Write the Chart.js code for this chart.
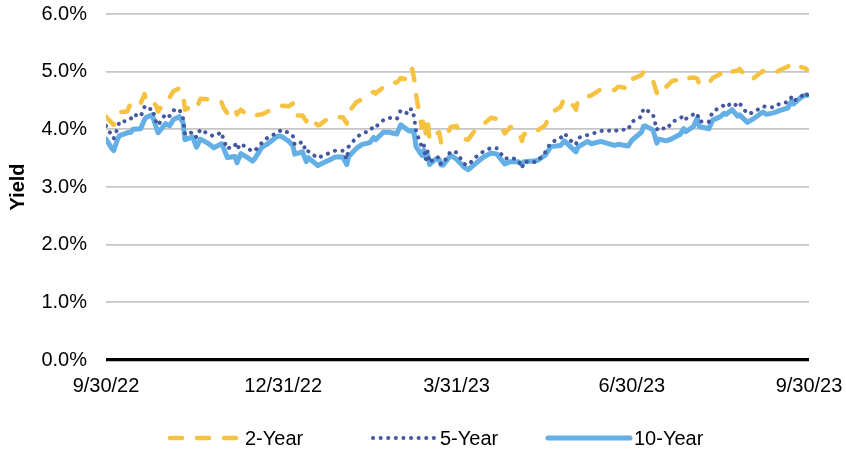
<!DOCTYPE html>
<html>
<head>
<meta charset="utf-8">
<script src="https://cdn.jsdelivr.net/npm/chart.js@4.4.0/dist/chart.umd.min.js"></script>
<style>
  html, body { margin: 0; padding: 0; background: #fff; }
  #wrap { width: 846px; height: 452px; }
</style>
</head>
<body>
<div id="wrap"><canvas id="chart" width="846" height="452"></canvas></div>
<script>
// Dates of the points (M/D/YY)
const dates = [
    '9/30/22','10/3/22','10/4/22','10/6/22','10/7/22','10/11/22','10/13/22','10/14/22','10/18/22','10/20/22','10/21/22','10/24/22','10/26/22','10/27/22','10/31/22',
    '11/2/22','11/4/22','11/7/22','11/9/22','11/10/22','11/14/22','11/16/22','11/18/22','11/22/22','11/25/22','11/29/22','11/30/22',
    '12/2/22','12/6/22','12/7/22','12/9/22','12/13/22','12/15/22','12/16/22','12/20/22','12/23/22','12/28/22','12/30/22',
    '1/3/23','1/5/23','1/6/23','1/10/23','1/12/23','1/13/23','1/18/23','1/19/23','1/24/23','1/27/23','1/31/23',
    '2/2/23','2/3/23','2/7/23','2/10/23','2/14/23','2/16/23','2/17/23','2/21/23','2/24/23','2/28/23',
    '3/2/23','3/6/23','3/7/23','3/8/23','3/9/23','3/10/23','3/13/23','3/14/23','3/15/23','3/16/23','3/17/23','3/20/23','3/22/23','3/23/23','3/24/23','3/28/23','3/31/23',
    '4/4/23','4/6/23','4/10/23','4/14/23','4/18/23','4/21/23','4/25/23','4/28/23',
    '5/2/23','5/4/23','5/5/23','5/10/23','5/12/23','5/16/23','5/19/23','5/24/23','5/26/23','5/31/23',
    '6/1/23','6/2/23','6/7/23','6/9/23','6/14/23','6/16/23','6/21/23','6/23/23','6/28/23','6/30/23',
    '7/5/23','7/6/23','7/7/23','7/11/23','7/13/23','7/14/23','7/18/23','7/21/23','7/25/23','7/27/23','7/28/23',
    '8/1/23','8/3/23','8/4/23','8/9/23','8/11/23','8/15/23','8/17/23','8/18/23','8/21/23','8/24/23','8/25/23','8/29/23',
    '9/1/23','9/6/23','9/8/23','9/12/23','9/15/23','9/19/23','9/21/23','9/22/23','9/26/23','9/28/23','9/29/23'
];

// Yields in %
const twoYear = [
    4.22,4.11,4.08,4.24,4.30,4.31,4.47,4.49,4.45,4.61,4.48,4.49,4.41,4.31,4.51,
    4.55,4.66,4.71,4.62,4.34,4.40,4.36,4.53,4.52,4.47,4.47,4.38,
    4.28,4.38,4.26,4.34,4.23,4.24,4.24,4.26,4.31,4.38,4.41,
    4.40,4.45,4.24,4.24,4.14,4.22,4.07,4.08,4.21,4.21,4.21,
    4.10,4.30,4.47,4.52,4.62,4.65,4.62,4.73,4.81,4.81,
    4.89,4.86,5.00,5.05,4.87,4.60,4.03,4.24,3.93,4.16,3.81,3.92,3.95,3.77,3.78,4.04,4.06,
    3.83,3.82,4.00,4.09,4.20,4.18,3.93,4.04,
    3.98,3.80,3.92,3.91,3.98,4.07,4.28,4.39,4.54,4.40,
    4.34,4.50,4.57,4.59,4.70,4.71,4.68,4.74,4.71,4.87,
    4.94,4.99,4.94,4.85,4.63,4.76,4.74,4.84,4.86,4.91,4.88,
    4.90,4.88,4.78,4.80,4.89,4.96,4.96,4.92,5.00,5.02,5.05,4.88,
    4.88,5.01,4.98,4.97,5.03,5.09,5.14,5.10,5.08,5.06,5.03
];
const fiveYear = [
    4.06,3.89,3.84,4.02,4.14,4.14,4.19,4.26,4.22,4.39,4.34,4.36,4.13,4.07,4.27,
    4.23,4.33,4.35,4.20,3.91,3.95,3.86,4.00,3.92,3.88,3.95,3.82,
    3.66,3.74,3.65,3.75,3.66,3.62,3.62,3.77,3.86,3.94,3.99,
    3.94,3.89,3.73,3.78,3.60,3.62,3.50,3.52,3.59,3.63,3.63,
    3.48,3.70,3.86,3.93,3.97,4.06,4.04,4.16,4.20,4.18,
    4.33,4.27,4.35,4.35,4.21,3.96,3.69,3.74,3.47,3.62,3.42,3.52,3.51,3.39,3.41,3.62,3.60,
    3.40,3.38,3.52,3.62,3.68,3.67,3.49,3.51,
    3.47,3.33,3.44,3.43,3.44,3.60,3.77,3.85,3.93,3.74,
    3.74,3.85,3.90,3.92,3.97,3.99,3.96,4.00,3.99,4.13,
    4.22,4.36,4.35,4.26,3.99,4.04,4.00,4.13,4.19,4.24,4.18,
    4.26,4.28,4.14,4.13,4.31,4.38,4.42,4.39,4.46,4.40,4.45,4.27,
    4.29,4.40,4.39,4.38,4.45,4.47,4.56,4.49,4.57,4.64,4.60
];
const tenYear = [
    3.83,3.67,3.63,3.83,3.89,3.94,3.95,4.00,4.01,4.17,4.21,4.25,4.04,3.94,4.10,
    4.06,4.17,4.22,4.12,3.82,3.87,3.69,3.83,3.76,3.68,3.75,3.68,
    3.51,3.53,3.42,3.58,3.50,3.45,3.48,3.69,3.75,3.88,3.88,
    3.79,3.72,3.57,3.61,3.44,3.51,3.37,3.39,3.47,3.52,3.52,
    3.39,3.53,3.67,3.74,3.77,3.86,3.82,3.95,3.95,3.92,
    4.08,3.98,3.97,3.98,3.93,3.70,3.55,3.64,3.51,3.56,3.39,3.48,3.48,3.38,3.38,3.55,3.48,
    3.34,3.30,3.41,3.52,3.59,3.57,3.40,3.44,
    3.44,3.39,3.44,3.45,3.46,3.55,3.70,3.72,3.80,3.64,
    3.61,3.69,3.79,3.75,3.79,3.77,3.72,3.74,3.71,3.81,
    3.95,4.05,4.06,3.99,3.76,3.83,3.80,3.84,3.91,4.01,3.96,
    4.05,4.20,4.05,4.01,4.16,4.22,4.28,4.26,4.34,4.23,4.25,4.12,
    4.18,4.30,4.26,4.29,4.33,4.37,4.49,4.44,4.56,4.59,4.59
];

const seriesNames = ['2-Year', '5-Year', '10-Year'];
const tickDates = ['9/30/22', '12/31/22', '3/31/23', '6/30/23', '9/30/23'];

const FONT = 'Arial, "Liberation Sans", sans-serif';
const COLORS = ['#f5c242', '#44589f', '#63afe6'];
const DASHES = [[12, 15], [0.1, 7.5], []];
const WIDTHS = [4.5, 4, 5];

// jours depuis le 30/09/22
function dayOf(s) {
    const [m, d, y] = s.split('/').map(Number);
    return Math.round((Date.UTC(2000 + y, m - 1, d) - Date.UTC(2022, 8, 30)) / 864e5);
}
const tickDays = tickDates.map(dayOf);

function toPoints(values) {
    return values.map((v, i) => ({ x: dayOf(dates[i]), y: v }));
}

// legend drawn by hand to follow the original spacing
const legendPlugin = {
    id: 'manualLegend',
    afterDraw(chart) {
        const ctx = chart.ctx;
        const y = 438;
        const items = [
            { x0: 170, x1: 238, tx: 245 },
            { x0: 373, x1: 434, tx: 440 },
            { x0: 548, x1: 630, tx: 634 }
        ];
        ctx.save();
        items.forEach((it, i) => {
            ctx.beginPath();
            ctx.strokeStyle = COLORS[i];
            ctx.lineWidth = WIDTHS[i];
            ctx.lineCap = 'round';
            ctx.setLineDash(DASHES[i]);
            ctx.moveTo(it.x0, y);
            ctx.lineTo(it.x1, y);
            ctx.stroke();
            ctx.setLineDash([]);
            ctx.fillStyle = '#000';
            ctx.font = '20px ' + FONT;
            ctx.textBaseline = 'middle';
            ctx.textAlign = 'left';
            ctx.fillText(seriesNames[i], it.tx, y + 1);
        });
        ctx.restore();
    }
};

const datasets = [twoYear, fiveYear, tenYear].map((vals, i) => ({
    label: seriesNames[i],
    data: toPoints(vals),
    borderColor: COLORS[i],
    backgroundColor: COLORS[i],
    borderWidth: WIDTHS[i],
    borderDash: DASHES[i],
    borderCapStyle: 'round',
    borderJoinStyle: 'round',
    pointRadius: 0,
    tension: 0,
    fill: false
}));

new Chart(document.getElementById('chart'), {
    type: 'line',
    data: { datasets },
    options: {
        responsive: false,
        animation: false,
        layout: { padding: { left: 0, right: 37, top: 14, bottom: 52 } },
        plugins: { legend: { display: false }, tooltip: { enabled: false } },
        scales: {
            x: {
                type: 'linear',
                min: 0,
                max: 365,
                afterBuildTicks: s => { s.ticks = tickDays.map(v => ({ value: v })); },
                afterFit: s => { s.height = 40; s.paddingLeft = 0; s.paddingRight = 0; },
                grid: { display: false },
                border: { display: false },
                ticks: {
                    autoSkip: false,
                    maxRotation: 0,
                    padding: 6,
                    color: '#000',
                    font: { size: 20, family: FONT },
                    callback: v => tickDates[tickDays.indexOf(v)]
                }
            },
            y: {
                min: 0,
                max: 6,
                afterFit: s => { s.width = 106; s.paddingTop = 0; s.paddingBottom = 0; },
                border: { display: false },
                grid: {
                    drawTicks: false,
                    color: c => c.tick.value === 0 ? '#000' : '#c6c6c6',
                    lineWidth: c => c.tick.value === 0 ? 3.2 : 1.7
                },
                ticks: {
                    stepSize: 1,
                    padding: 19,
                    color: '#000',
                    font: { size: 20, family: FONT },
                    callback: v => v.toFixed(1) + '%'
                },
                title: {
                    display: true,
                    text: 'Yield',
                    color: '#000',
                    padding: { top: 6, bottom: 0 },
                    font: { size: 20, weight: 'bold', family: FONT }
                }
            }
        }
    },
    plugins: [legendPlugin]
});
</script>
</body>
</html>
